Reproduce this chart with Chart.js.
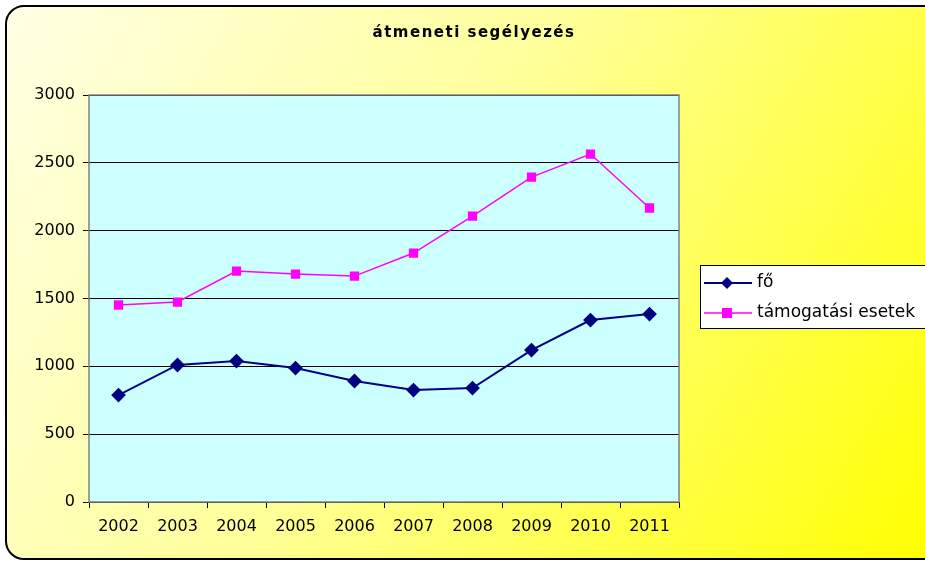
<!DOCTYPE html>
<html>
<head>
<meta charset="utf-8">
<script src="https://cdn.jsdelivr.net/npm/chart.js@4.4.0/dist/chart.umd.min.js"></script>
<style>
  html, body { margin: 0; padding: 0; background: #fff; }
  #wrap { width: 925px; height: 563px; position: relative; }
</style>
</head>
<body>
<div id="wrap"><canvas id="chart" width="925" height="563"></canvas></div>
<script>
const chartTitle = 'átmeneti segélyezés';
const years = ['2002', '2003', '2004', '2005', '2006', '2007', '2008', '2009', '2010', '2011'];
const foValues = [788, 1010, 1039, 987, 892, 825, 840, 1120, 1341, 1385];
const esetekValues = [1452, 1474, 1702, 1680, 1665, 1835, 2108, 2395, 2565, 2167];
const seriesNames = ['fő', 'támogatási esetek'];

const FONT = '"DejaVu Sans", Arial, sans-serif';

// Background, rounded frame and plot area fill
const backgroundPlugin = {
    id: 'bg',
    beforeDraw(chart) {
        const ctx = chart.ctx;
        const w = chart.width, h = chart.height;
        ctx.save();
        const g = ctx.createLinearGradient(0, 0, w, h);
        g.addColorStop(0, '#ffffe6');
        g.addColorStop(0.45, '#ffff9a');
        g.addColorStop(1, '#ffff00');
        ctx.beginPath();
        ctx.roundRect(6, 6, w + 10, h - 10, 18);
        ctx.fillStyle = g;
        ctx.fill();
        ctx.lineWidth = 2;
        ctx.strokeStyle = '#000';
        ctx.stroke();

        const a = chart.chartArea;
        ctx.fillStyle = '#ccffff';
        ctx.fillRect(a.left, a.top, a.right - a.left, a.bottom - a.top);

        ctx.fillStyle = '#000';
        ctx.font = 'bold 15px ' + FONT;
        ctx.textAlign = 'center';
        ctx.textBaseline = 'middle';
        ctx.letterSpacing = '1.5px';
        ctx.fillText(chartTitle, 474, 33);
        ctx.restore();
    },
    afterDatasetsDraw(chart) {
        const ctx = chart.ctx;
        const a = chart.chartArea;
        ctx.save();
        ctx.strokeStyle = '#808080';
        ctx.lineWidth = 1.5;
        ctx.strokeRect(a.left, a.top, a.right - a.left, a.bottom - a.top);
        ctx.restore();
    }
};

// Legend drawn in a box on the right
const legendPlugin = {
    id: 'boxLegend',
    afterDraw(chart) {
        const ctx = chart.ctx;
        ctx.save();
        ctx.fillStyle = '#fff';
        ctx.fillRect(700, 265, 240, 63);
        ctx.strokeStyle = '#000';
        ctx.lineWidth = 1;
        ctx.strokeRect(700.5, 265.5, 240, 63);
        ctx.font = '17px ' + FONT;
        ctx.textBaseline = 'middle';
        chart.data.datasets.forEach((ds, i) => {
            const y = 283 + i * 30;
            ctx.strokeStyle = ds.borderColor;
            ctx.lineWidth = ds.borderWidth;
            ctx.beginPath();
            ctx.moveTo(704, y);
            ctx.lineTo(752, y);
            ctx.stroke();
            ctx.fillStyle = ds.pointBackgroundColor;
            ctx.beginPath();
            if (ds.pointStyle === 'rectRot') {
                ctx.moveTo(727, y - 6);
                ctx.lineTo(733, y);
                ctx.lineTo(727, y + 6);
                ctx.lineTo(721, y);
                ctx.closePath();
            } else {
                ctx.rect(722, y - 5, 10, 10);
            }
            ctx.fill();
            ctx.fillStyle = '#000';
            ctx.fillText(ds.label, 757, y);
        });
        ctx.restore();
    }
};

const tickFont = { family: FONT, size: 16 };

new Chart(document.getElementById('chart').getContext('2d'), {
    type: 'line',
    data: {
        labels: years,
        datasets: [
            {
                label: seriesNames[0],
                data: foValues,
                borderColor: '#000080',
                backgroundColor: '#000080',
                pointBackgroundColor: '#000080',
                pointBorderColor: '#000080',
                pointStyle: 'rectRot',
                pointRadius: 6,
                borderWidth: 2,
                tension: 0
            },
            {
                label: seriesNames[1],
                data: esetekValues,
                borderColor: '#ff00ff',
                backgroundColor: '#ff00ff',
                pointBackgroundColor: '#ff00ff',
                pointBorderColor: '#ff00ff',
                pointStyle: 'rect',
                pointRadius: 5.5,
                borderWidth: 1.5,
                tension: 0
            }
        ]
    },
    plugins: [backgroundPlugin, legendPlugin],
    options: {
        responsive: false,
        animation: false,
        events: [],
        layout: { padding: { left: 0, top: 95, right: 246, bottom: 0 } },
        plugins: {
            legend: { display: false },
            title: { display: false },
            tooltip: { enabled: false }
        },
        scales: {
            x: {
                offset: true,
                grid: {
                    offset: true,
                    drawOnChartArea: false,
                    drawTicks: true,
                    tickLength: 6,
                    color: '#000'
                },
                border: { display: false },
                ticks: { color: '#000', font: tickFont, padding: 9, maxRotation: 0, autoSkip: false },
                afterFit(scale) { scale.height = 61; }
            },
            y: {
                min: 0,
                max: 3000,
                grid: {
                    color: '#000',
                    lineWidth: 1,
                    drawTicks: true,
                    tickLength: 6
                },
                border: { display: false },
                ticks: {
                    stepSize: 500,
                    color: '#000',
                    font: tickFont,
                    padding: 8,
                    callback: v => String(v)
                },
                afterFit(scale) { scale.width = 89; }
            }
        }
    }
});
</script>
</body>
</html>
